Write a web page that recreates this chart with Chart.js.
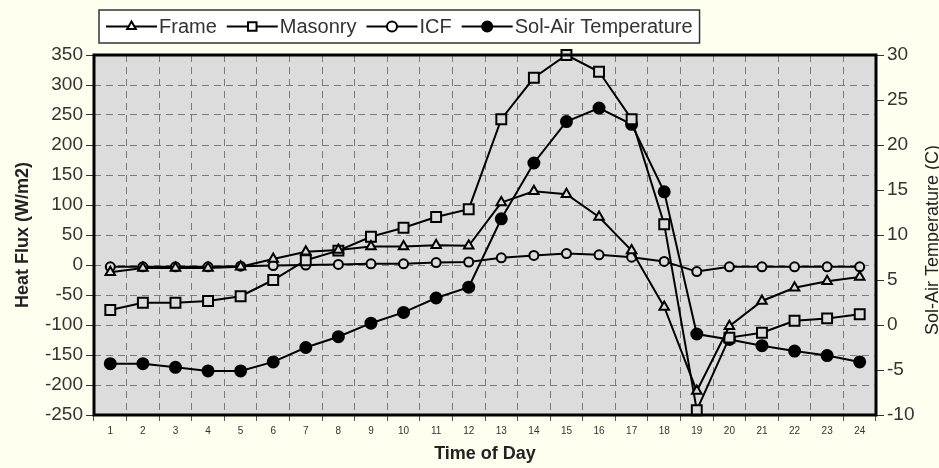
<!DOCTYPE html>
<html>
<head>
<meta charset="utf-8">
<script src="https://cdn.jsdelivr.net/npm/chart.js@4/dist/chart.umd.min.js"></script>
<style>
    html, body { margin: 0; padding: 0; background: #fffff0; }
    #wrap { width: 939px; height: 468px; position: relative; }
</style>
</head>
<body>
<div id="wrap"><canvas id="fluxChart" width="939" height="468"></canvas></div>
<script>
// Hour of day
const hours = ['1', '2', '3', '4', '5', '6', '7', '8', '9', '10', '11', '12',
               '13', '14', '15', '16', '17', '18', '19', '20', '21', '22', '23', '24'];

// Heat flux (W/m2)
const frameFlux = [-12, -5, -5, -5, -3, 10, 22, 25, 31, 31, 33, 32,
                   104, 123, 118, 80, 24, -70, -210, -102, -60, -38, -27, -20];
const masonryFlux = [-75, -63, -63, -60, -52, -25, 8, 24, 47, 62, 80, 93,
                     243, 312, 350, 322, 243, 68, -242, -121, -113, -93, -89, -82];
const icfFlux = [-3, -3, -3, -3, -2, -1, 0, 1, 2, 2, 4, 5,
                 12, 16, 19, 17, 13, 6, -11, -3, -3, -3, -3, -3];

// Sol-air temperature (C)
const solAirTemp = [-4.3, -4.3, -4.7, -5.1, -5.1, -4.1, -2.5, -1.3, 0.2, 1.4, 3.0, 4.2,
                    11.8, 18.0, 22.6, 24.1, 22.3, 14.8, -1.0, -1.6, -2.3, -2.9, -3.4, -4.1];

const FONT = '"Liberation Sans", Arial, sans-serif';
const PLOT_BG = '#dcdcdc';
const GRID_DASH = [7, 5];

// grey plot area + heavy black frame
const plotFrame = {
    id: 'plotFrame',
    beforeDraw(chart) {
        const a = chart.chartArea;
        const ctx = chart.ctx;
        ctx.save();
        ctx.fillStyle = PLOT_BG;
        ctx.fillRect(a.left, a.top, a.right - a.left, a.bottom - a.top);
        ctx.restore();
    },
    afterDatasetsDraw(chart) {
        const a = chart.chartArea;
        const ctx = chart.ctx;
        ctx.save();
        ctx.strokeStyle = '#000';
        ctx.lineWidth = 3;
        ctx.strokeRect(a.left, a.top, a.right - a.left, a.bottom - a.top);
        ctx.restore();
    }
};

// right axis title reads bottom-to-top like the left one
const rightTitle = {
    id: 'rightTitle',
    afterDraw(chart) {
        const a = chart.chartArea;
        const ctx = chart.ctx;
        ctx.save();
        ctx.translate(933, (a.top + a.bottom) / 2 + 5);
        ctx.rotate(-Math.PI / 2);
        ctx.font = '18px ' + FONT;
        ctx.fillStyle = '#222';
        ctx.textAlign = 'center';
        ctx.textBaseline = 'middle';
        ctx.fillText('Sol-Air Temperature (C)', 0, 0);
        ctx.restore();
    }
};

// boxed legend with line + marker samples
const boxLegend = {
    id: 'boxLegend',
    afterDraw(chart) {
        const ctx = chart.ctx;
        ctx.save();
        ctx.font = '20px ' + FONT;
        const lineLen = 51, gap = 2, itemGap = 10, pad = 7;
        const items = chart.data.datasets.map(ds => ({ ds: ds, w: ctx.measureText(ds.label).width }));
        let total = pad * 2 + itemGap * (items.length - 1);
        items.forEach(it => { total += lineLen + gap + it.w; });

        const bx = 99, by = 10, bh = 33;
        ctx.fillStyle = '#ffffff';
        ctx.fillRect(bx, by, total, bh);
        ctx.strokeStyle = '#333';
        ctx.lineWidth = 1.5;
        ctx.strokeRect(bx, by, total, bh);

        let x = bx + pad;
        const cy = by + bh / 2;
        items.forEach(it => {
            ctx.strokeStyle = '#000';
            ctx.lineWidth = 2;
            ctx.beginPath();
            ctx.moveTo(x, cy);
            ctx.lineTo(x + lineLen, cy);
            ctx.stroke();
            ctx.fillStyle = it.ds.pointBackgroundColor === '#000' ? '#000' : '#fff';
            ctx.strokeStyle = '#000';
            ctx.lineWidth = 2;
            Chart.helpers.drawPoint(ctx, {
                pointStyle: it.ds.pointStyle,
                radius: it.ds.pointStyle === 'rect' ? 6 : 5,
                rotation: 0,
                borderWidth: 2
            }, x + lineLen / 2, cy);
            x += lineLen + gap;
            ctx.fillStyle = '#333';
            ctx.textBaseline = 'middle';
            ctx.fillText(it.ds.label, x, cy + 1);
            x += it.w + itemGap;
        });
        ctx.restore();
    }
};

function makeSeries(label, data, style, radius, fill, axis) {
    return {
        label: label,
        data: data,
        yAxisID: axis,
        borderColor: '#000',
        borderWidth: 2,
        pointStyle: style,
        pointRadius: radius,
        pointBorderWidth: 2,
        pointBorderColor: '#000',
        pointBackgroundColor: fill,
        tension: 0,
        clip: false
    };
}

const ctx = document.getElementById('fluxChart').getContext('2d');
new Chart(ctx, {
    type: 'line',
    data: {
        labels: hours,
        datasets: [
            makeSeries('Frame', frameFlux, 'triangle', 5.5, PLOT_BG, 'y'),
            makeSeries('Masonry', masonryFlux, 'rect', 7, PLOT_BG, 'y'),
            makeSeries('ICF', icfFlux, 'circle', 4.5, PLOT_BG, 'y'),
            makeSeries('Sol-Air Temperature', solAirTemp, 'circle', 5.5, '#000', 'y1')
        ]
    },
    options: {
        responsive: false,
        animation: false,
        layout: { padding: { top: 55, left: 0, right: 0, bottom: 0 } },
        plugins: {
            legend: { display: false },
            tooltip: { enabled: false }
        },
        scales: {
            x: {
                offset: true,
                grid: {
                    offset: true,
                    color: '#7a7a7a',
                    lineWidth: 1,
                    tickLength: 6,
                    tickColor: '#555',
                    dash: GRID_DASH,
                    borderDash: GRID_DASH,
                    tickBorderDash: []
                },
                border: { display: false, dash: GRID_DASH },
                ticks: { color: '#333', font: { family: FONT, size: 10 }, padding: 4, maxRotation: 0, autoSkip: false },
                title: {
                    display: true,
                    text: 'Time of Day',
                    color: '#222',
                    font: { family: FONT, size: 18, weight: 'bold' },
                    padding: { top: 0, bottom: 3 }
                },
                afterFit(scale) { scale.height = 53; }
            },
            y: {
                position: 'left',
                min: -250,
                max: 350,
                grid: {
                    color: '#7a7a7a',
                    lineWidth: 1,
                    tickLength: 8,
                    tickColor: '#333',
                    dash: GRID_DASH,
                    borderDash: GRID_DASH,
                    tickBorderDash: []
                },
                border: { display: false, dash: GRID_DASH },
                ticks: { stepSize: 50, color: '#333', font: { family: FONT, size: 19 }, padding: 3, autoSkip: false },
                title: {
                    display: true,
                    text: 'Heat Flux (W/m2)',
                    color: '#222',
                    font: { family: FONT, size: 18, weight: 'bold' },
                    padding: { top: 12, bottom: 0 }
                },
                afterFit(scale) { scale.width = 94; }
            },
            y1: {
                position: 'right',
                min: -10,
                max: 30,
                grid: { drawOnChartArea: false, tickLength: 8, tickColor: '#333' },
                border: { display: false },
                ticks: { stepSize: 5, color: '#333', font: { family: FONT, size: 19 }, padding: 3, autoSkip: false },
                afterFit(scale) { scale.width = 63; }
            }
        }
    },
    plugins: [plotFrame, rightTitle, boxLegend]
});
</script>
</body>
</html>
